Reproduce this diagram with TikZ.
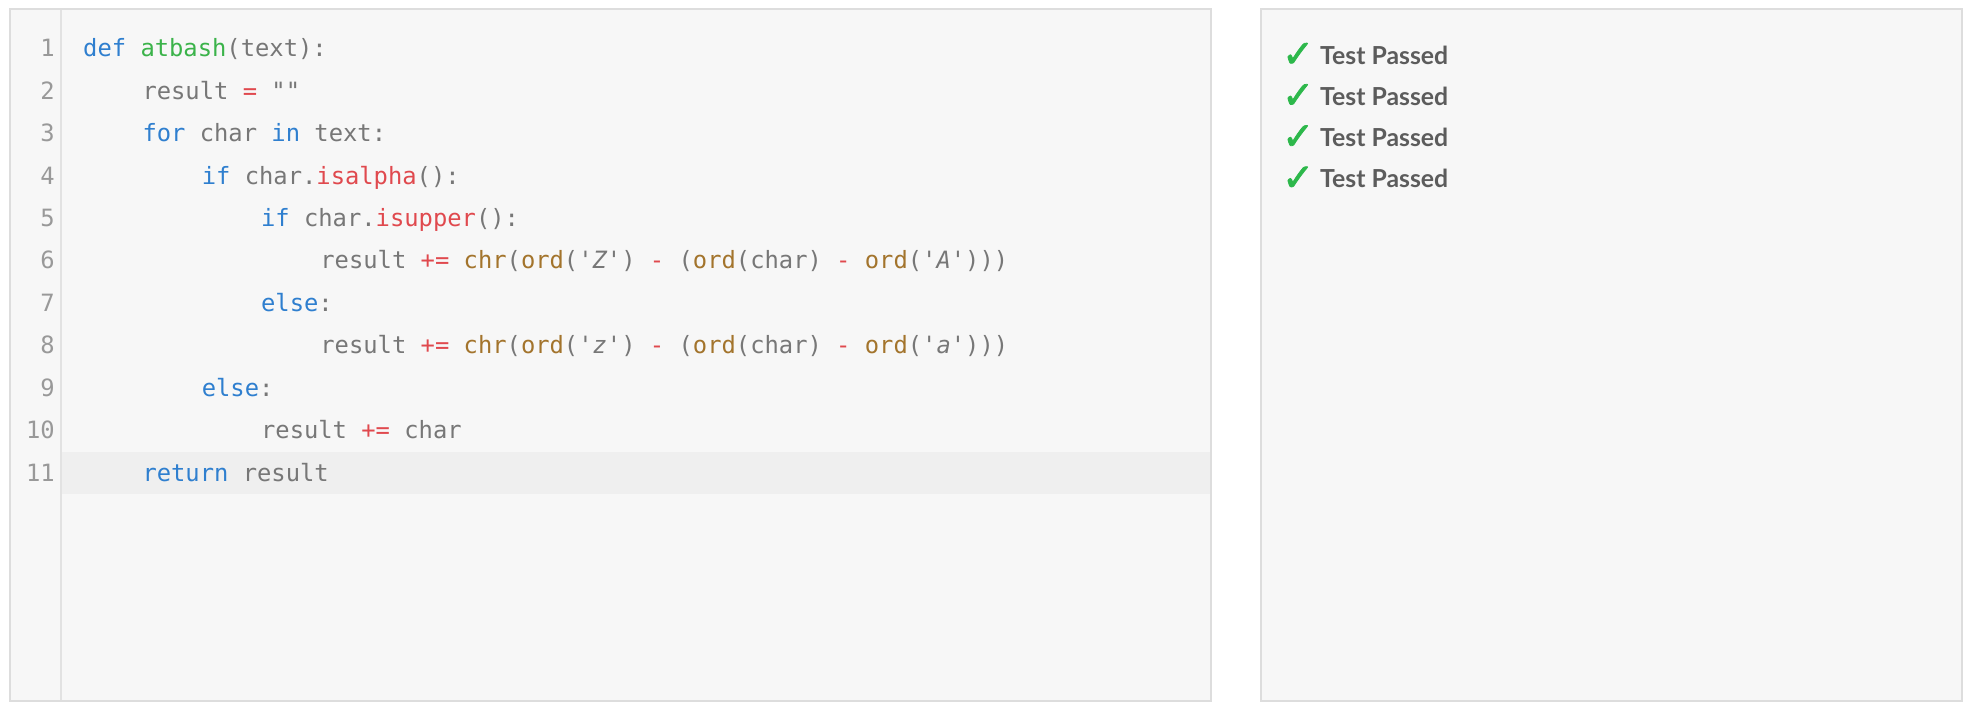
\documentclass[tikz,border=0pt]{standalone}
\usepackage{fontspec}
\newfontfamily\codefont{DejaVu Sans Mono}
\newfontfamily\latofont{Lato}
\newfontfamily\symfont{DejaVu Sans}[FakeBold=2]
\definecolor{panelbg}{HTML}{F7F7F7}
\definecolor{panelline}{HTML}{DDDDDD}
\definecolor{gutterline}{HTML}{E2E2E2}
\definecolor{activeline}{HTML}{EFEFEF}
\definecolor{codegrey}{HTML}{777777}
\definecolor{numgrey}{HTML}{999999}
\definecolor{kwblue}{HTML}{2F7FCF}
\definecolor{fngreen}{HTML}{3BB34A}
\definecolor{opred}{HTML}{E0494E}
\definecolor{bibrown}{HTML}{A3742C}
\definecolor{passgrey}{HTML}{5C5C5C}
\definecolor{tickgreen}{HTML}{2DB84B}
\newcommand\kw[1]{\textcolor{kwblue}{#1}}
\newcommand\fn[1]{\textcolor{fngreen}{#1}}
\newcommand\op[1]{\textcolor{opred}{#1}}
\newcommand\bi[1]{\textcolor{bibrown}{#1}}
\newcommand\st[1]{{\itshape\symbol{39}#1\symbol{39}}}
\begin{document}
\begin{tikzpicture}[x=1pt,y=-1pt,
    panel/.style={fill=panelbg,draw=panelline,line width=1.3pt},
    codeline/.style={anchor=base west,inner sep=0pt,text=codegrey,
      font=\codefont\fontsize{23.8}{28}\selectfont},
    linenum/.style={anchor=base east,inner sep=0pt,text=numgrey,
      font=\codefont\fontsize{23.8}{28}\selectfont},
    tick/.style={anchor=base west,inner sep=0pt,text=tickgreen,
      font=\symfont\fontsize{38}{38}\selectfont},
    passed/.style={anchor=base west,inner sep=0pt,text=passgrey,
      font=\latofont\bfseries\fontsize{24.8}{28}\selectfont}]
  \useasboundingbox (0,0) rectangle (1972,708);
  % editor panel
  \draw[panel] (10,9) rectangle (1211,701);
  \fill[activeline] (62,452) rectangle (1210.3,494);
  \draw[gutterline,line width=1.3pt] (61,9.6) -- (61,700.4);
  \def \Lines{
    1/0/{\kw{def} \fn{atbash}(text):},
    2/1/{result \op{=} {\itshape""}},
    3/1/{\kw{for} char \kw{in} text:},
    4/2/{\kw{if} char.\op{isalpha}():},
    5/3/{\kw{if} char.\op{isupper}():},
    6/4/{result \op{+=} \bi{chr}(\bi{ord}(\st{Z}) \op{-} (\bi{ord}(char) \op{-} \bi{ord}(\st{A})))},
    7/3/{\kw{else}:},
    8/4/{result \op{+=} \bi{chr}(\bi{ord}(\st{z}) \op{-} (\bi{ord}(char) \op{-} \bi{ord}(\st{a})))},
    9/2/{\kw{else}:},
    10/3/{result \op{+=} char},
    11/1/{\kw{return} result}}
  \foreach \n / \lvl / \txt in \Lines{
    \node[linenum] (num\n) at (55, {57+(\n-1)*42.4}) {\n};
    \node[codeline] (line\n) at ({83+\lvl*59.3}, {57+(\n-1)*42.4}) {\txt};
  }
  % test panel
  \draw[panel] (1261,9) rectangle (1962,701);
  \foreach \i in {1,...,4}{
    \node[tick] (tick\i) at (1282, {67+(\i-1)*41.2}) {✓};
    \node[passed] (pass\i) at (1320, {64.3+(\i-1)*41.2}) {Test Passed};
  }
\end{tikzpicture}
\end{document}
